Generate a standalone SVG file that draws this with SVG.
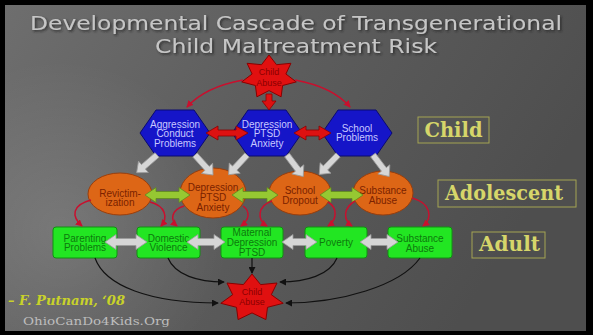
<svg xmlns="http://www.w3.org/2000/svg" width="593" height="335" viewBox="0 0 593 335">
<defs>
<linearGradient id="bg" x1="0" y1="0" x2="1" y2="0.35">
<stop offset="0" stop-color="#6e6e6e"/>
<stop offset="0.45" stop-color="#5e5e5e"/>
<stop offset="1" stop-color="#4e4e4e"/>
</linearGradient>
<radialGradient id="glow" cx="60" cy="230" r="170" gradientUnits="userSpaceOnUse">
<stop offset="0" stop-color="#ffffff" stop-opacity="0.13"/>
<stop offset="1" stop-color="#ffffff" stop-opacity="0"/>
</radialGradient>
<filter id="shadow" x="-5%" y="-30%" width="110%" height="160%">
<feDropShadow dx="1.5" dy="1.5" stdDeviation="0.8" flood-color="#222" flood-opacity="0.8"/>
</filter>
<marker id="mr" viewBox="0 0 8 8" refX="7" refY="4" markerWidth="7" markerHeight="7" markerUnits="userSpaceOnUse" orient="auto">
<path d="M0,0 L8,4 L0,8 Z" fill="#c8102e"/>
</marker>
<marker id="mb" viewBox="0 0 8 8" refX="7" refY="4" markerWidth="7" markerHeight="7" markerUnits="userSpaceOnUse" orient="auto">
<path d="M0,0 L8,4 L0,8 Z" fill="#111"/>
</marker>
<path id="garrow" d="M0,-3 H18 V-7.5 L27,0 L18,7.5 V3 H0 Z"/>
</defs>
<style>
.title{font-family:"DejaVu Sans",sans-serif;font-size:19px;fill:#c6c6c6;text-anchor:middle;filter:url(#shadow)}
.star{fill:#e01010;stroke:#8a0000;stroke-width:1}
.startxt{font-family:"Liberation Sans",sans-serif;font-size:9px;fill:#8b0000;text-anchor:middle}
.hex{fill:#1515c8;stroke:#0a0a70;stroke-width:1}
.hextxt{font-family:"Liberation Sans",sans-serif;font-size:10px;fill:#c8c8ff;text-anchor:middle}
.circ{fill:#dd6616;stroke:#9a3e0c;stroke-width:1}
.circtxt{font-family:"Liberation Sans",sans-serif;font-size:10px;fill:#7a2200;text-anchor:middle}
.box{fill:#22e622;stroke:#129012;stroke-width:1}
.boxtxt{font-family:"Liberation Sans",sans-serif;font-size:10px;fill:#0d7a0d;text-anchor:middle}
.lbl{fill:none;stroke:#a4a452;stroke-width:1}
.lbltxt{font-family:"DejaVu Serif",serif;font-weight:bold;font-size:19.5px;fill:#d6d66a;text-anchor:middle}
.redarr{fill:#dd1111;stroke:#8a0000;stroke-width:0.8}
.grnarr{fill:#96c832;stroke:#5f8a1e;stroke-width:0.8}
.gryarr{fill:#d6d6d6;stroke:#9a9a9a;stroke-width:0.8}
.redline{fill:none;stroke:#c8102e;stroke-width:1.5;marker-end:url(#mr)}
.blkline{fill:none;stroke:#111;stroke-width:1.2;marker-end:url(#mb)}
</style>

<rect x="0" y="0" width="593" height="335" fill="#000"/>
<rect x="5" y="5" width="581" height="326" fill="url(#bg)"/>
<rect x="5" y="5" width="581" height="326" fill="url(#glow)"/>

<g id="title">
<text class="title" x="296" y="29.5" textLength="532" lengthAdjust="spacingAndGlyphs">Developmental Cascade of Transgenerational</text>
<text class="title" x="296" y="53" textLength="282" lengthAdjust="spacingAndGlyphs">Child Maltreatment Risk</text>
</g>

<g id="star-top">
<polygon class="star" points="269,55 276.5,64.7 290.9,63.3 285.9,74 296.3,81.9 282.6,85.5 281.1,96.8 269,90.6 256.9,96.8 255.4,85.5 241.7,81.9 252.1,74 247.1,63.3 261.5,64.7"/>
<text class="startxt" x="269" y="75">Child</text>
<text class="startxt" x="269" y="85.5">Abuse</text>
</g>

<g id="hex-aggression">
<polygon class="hex" points="140,133 156,110 194,110 210,133 194,156 156,156"/>
<text class="hextxt" x="175" y="127.5">Aggression</text>
<text class="hextxt" x="175" y="137">Conduct</text>
<text class="hextxt" x="175" y="146.5">Problems</text>
</g>
<g id="hex-depression">
<polygon class="hex" points="232,133 248,110 286,110 302,133 286,156 248,156"/>
<text class="hextxt" x="267" y="127.5">Depression</text>
<text class="hextxt" x="267" y="137">PTSD</text>
<text class="hextxt" x="267" y="146.5">Anxiety</text>
</g>
<g id="hex-school">
<polygon class="hex" points="322,133 338,110 376,110 392,133 376,156 338,156"/>
<text class="hextxt" x="357" y="131.5">School</text>
<text class="hextxt" x="357" y="141">Problems</text>
</g>

<g id="circ-revictimization">
<ellipse class="circ" cx="120" cy="194" rx="32" ry="21"/>
<text class="circtxt" x="120" y="196.5">Revictim-</text>
<text class="circtxt" x="120" y="206">ization</text>
</g>
<g id="circ-depression">
<ellipse class="circ" cx="213" cy="193" rx="33" ry="25"/>
<text class="circtxt" x="213" y="190.5">Depression</text>
<text class="circtxt" x="213" y="200.5">PTSD</text>
<text class="circtxt" x="213" y="210.5">Anxiety</text>
</g>
<g id="circ-dropout">
<ellipse class="circ" cx="300" cy="193" rx="31" ry="22"/>
<text class="circtxt" x="300" y="193.5">School</text>
<text class="circtxt" x="300" y="203.5">Dropout</text>
</g>
<g id="circ-substance">
<ellipse class="circ" cx="383" cy="193" rx="30" ry="22"/>
<text class="circtxt" x="383" y="193.5">Substance</text>
<text class="circtxt" x="383" y="203.5">Abuse</text>
</g>

<g id="box-parenting">
<rect class="box" x="53" y="227" width="64" height="31" rx="3"/>
<text class="boxtxt" x="85" y="241.5">Parenting</text>
<text class="boxtxt" x="85" y="251">Problems</text>
</g>
<g id="box-domestic">
<rect class="box" x="137" y="227" width="63" height="31" rx="3"/>
<text class="boxtxt" x="168.5" y="241.5">Domestic</text>
<text class="boxtxt" x="168.5" y="251">Violence</text>
</g>
<g id="box-maternal">
<rect class="box" x="221" y="227" width="62" height="31" rx="3"/>
<text class="boxtxt" x="252" y="235.5">Maternal</text>
<text class="boxtxt" x="252" y="245.5">Depression</text>
<text class="boxtxt" x="252" y="255.5">PTSD</text>
</g>
<g id="box-poverty">
<rect class="box" x="305" y="227" width="62" height="31" rx="3"/>
<text class="boxtxt" x="336" y="245.5">Poverty</text>
</g>
<g id="box-substance">
<rect class="box" x="388" y="227" width="64" height="31" rx="3"/>
<text class="boxtxt" x="420" y="241.5">Substance</text>
<text class="boxtxt" x="420" y="251.5">Abuse</text>
</g>

<g id="star-bottom">
<polygon class="star" points="252,274 260.6,284.6 277,283 271.3,294.7 283.2,303.3 267.5,307.3 265.9,319.6 252,312.9 238.1,319.6 236.5,307.3 220.8,303.3 232.7,294.7 227,283 243.4,284.6"/>
<text class="startxt" x="252" y="295">Child</text>
<text class="startxt" x="252" y="305">Abuse</text>
</g>

<g id="label-child">
<rect class="lbl" x="418" y="117" width="71" height="26"/>
<text class="lbltxt" x="453.5" y="136.5" textLength="58" lengthAdjust="spacingAndGlyphs">Child</text>
</g>
<g id="label-adolescent">
<rect class="lbl" x="438" y="180" width="138" height="27"/>
<text class="lbltxt" x="504" y="199.5" textLength="118" lengthAdjust="spacingAndGlyphs">Adolescent</text>
</g>
<g id="label-adult">
<rect class="lbl" x="472" y="232" width="73" height="26"/>
<text class="lbltxt" x="509.5" y="251" textLength="61" lengthAdjust="spacingAndGlyphs">Adult</text>
</g>

<g id="credits">
<text x="8" y="305" font-family="DejaVu Serif, serif" font-weight="bold" font-style="italic" font-size="12" fill="#c8d22a" textLength="117" lengthAdjust="spacingAndGlyphs">– F. Putnam, ‘08</text>
<text x="23" y="325" font-family="DejaVu Serif, serif" font-size="11.5" fill="#bdbdbd" textLength="147" lengthAdjust="spacingAndGlyphs">OhioCanDo4Kids.Org</text>
</g>

<g id="connectors">
<path class="redline" d="M243,80 Q205,87 187,107"/>
<path class="redline" d="M295,80 Q333,87 350,107"/>
<polygon class="redarr" points="266,94 272,94 272,101 276,101 269,110 262,101 266,101"/>
<polygon class="redarr" points="206,133 218,126 218,130 236,130 236,126 248,133 236,140 236,136 218,136 218,140"/>
<polygon class="redarr" points="294,133 306,126 306,130 319,130 319,126 331,133 319,140 319,136 306,136 306,140"/>
<use href="#garrow" class="gryarr" transform="translate(157,155) rotate(139)"/>
<use href="#garrow" class="gryarr" transform="translate(195,155) rotate(48)"/>
<use href="#garrow" class="gryarr" transform="translate(247,155) rotate(133)"/>
<use href="#garrow" class="gryarr" transform="translate(287,155) rotate(53)"/>
<use href="#garrow" class="gryarr" transform="translate(338,155) rotate(134)"/>
<use href="#garrow" class="gryarr" transform="translate(373,155) rotate(53)"/>
<polygon class="grnarr" points="145,195 156,187.5 156,191.5 179,191.5 179,187.5 190,195 179,202.5 179,198.5 156,198.5 156,202.5"/>
<polygon class="grnarr" points="232,195 243,187.5 243,191.5 267,191.5 267,187.5 278,195 267,202.5 267,198.5 243,198.5 243,202.5"/>
<polygon class="grnarr" points="320,195 331,187.5 331,191.5 352,191.5 352,187.5 363,195 352,202.5 352,198.5 331,198.5 331,202.5"/>
<path class="redline" d="M91,200 C72,205 71,216 82,226"/>
<path class="redline" d="M150,202 C166,206 168,218 161,226"/>
<path class="redline" d="M184,206 C171,210 170,220 177,226"/>
<path class="redline" d="M243,206 C251,212 249,220 241,226"/>
<path class="redline" d="M272,201 C257,206 257,220 267,226"/>
<path class="redline" d="M328,202 C338,208 337,220 328,226"/>
<path class="redline" d="M355,201 C343,208 343,220 352,226"/>
<path class="redline" d="M412,198 C431,203 433,218 423,226"/>
<polygon class="gryarr" points="105,242 116,234.5 116,238.5 136,238.5 136,234.5 147,242 136,249.5 136,245.5 116,245.5 116,249.5"/>
<polygon class="gryarr" points="187,242 198,234.5 198,238.5 214,238.5 214,234.5 225,242 214,249.5 214,245.5 198,245.5 198,249.5"/>
<polygon class="gryarr" points="282,242 293,234.5 293,238.5 306,238.5 306,234.5 317,242 306,249.5 306,245.5 293,245.5 293,249.5"/>
<polygon class="gryarr" points="360,242 371,234.5 371,238.5 387,238.5 387,234.5 398,242 387,249.5 387,245.5 371,245.5 371,249.5"/>
<path class="blkline" d="M95,258 C105,286 150,303 218,303"/>
<path class="blkline" d="M168,258 C175,275 198,282 224,282"/>
<path class="blkline" d="M252,258 L252,273"/>
<path class="blkline" d="M337,258 C330,275 306,282 280,282"/>
<path class="blkline" d="M420,258 C400,286 340,303 286,303"/>
</g>
</svg>
